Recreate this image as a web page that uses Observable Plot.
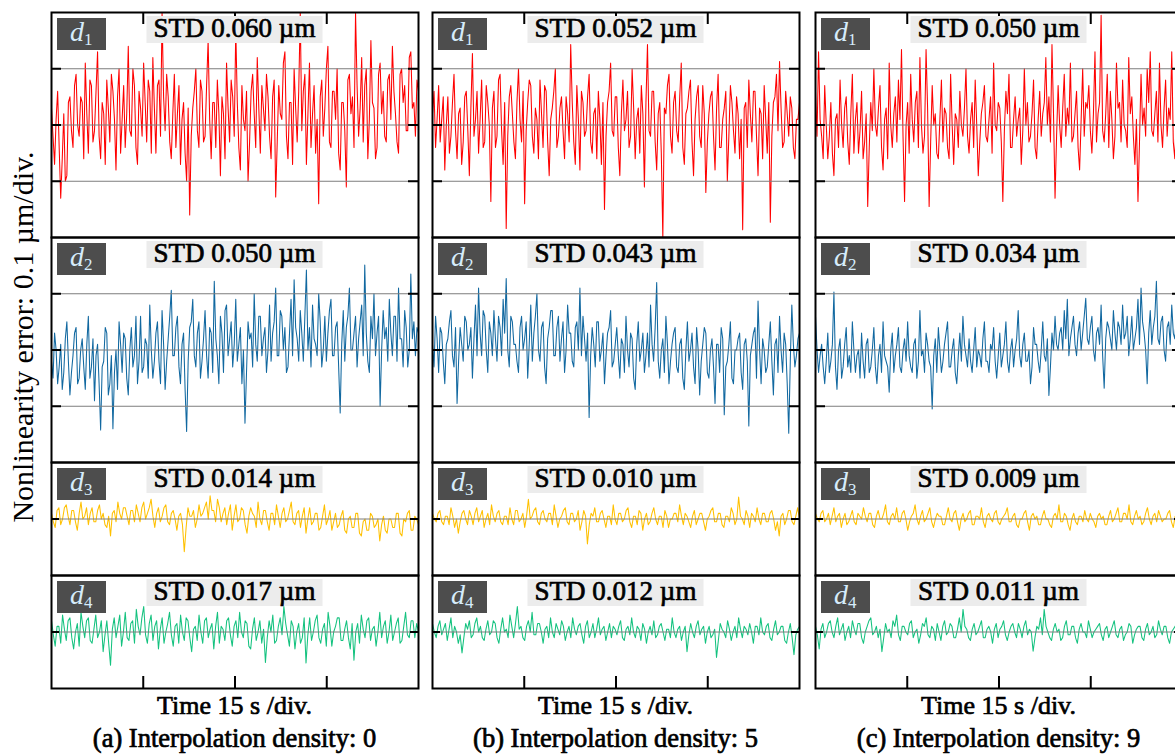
<!DOCTYPE html>
<html>
<head>
<meta charset="utf-8">
<script src="https://cdn.jsdelivr.net/npm/d3@7"></script>
<script src="https://cdn.jsdelivr.net/npm/@observablehq/plot@0.6"></script>
<style>
  html, body { margin: 0; padding: 0; background: #fff; overflow: hidden; }
  #root { position: relative; width: 1175px; height: 754px; overflow: hidden; background: #fff; }
  .cell { position: absolute; }
  .cell svg { max-width: none !important; display: block; background: transparent; }
  #overlay { position: absolute; left: 0; top: 0; pointer-events: none; }
  #overlay text { font-family: "Liberation Serif", "Times New Roman", Times, serif; }
</style>
</head>
<body>
<div id="root"></div>
<script>
// ---------------- DATA (nonlinearity error in nm; 0.1 µm = 100 nm per division) ----------------
const timeSpan = 60;                 // s (4 divisions × 15 s)
const xTicks = [15, 30, 45];         // s
const gridBig = [-100, 0, 100];      // nm
const gridSmall = [0];               // nm
const captions = ["(a) Interpolation density: 0", "(b) Interpolation density: 5", "(c) Interpolation density: 9"];
const xLabel = "Time 15 s /div.";
const yLabel = "Nonlinearity error: 0.1 µm/div.";
const channelNames = ["1", "2", "3", "4"];
const channelColors = ["#ff0000", "#1168a0", "#ffc000", "#14c27f"];
const stdA = [0.060, 0.050, 0.014, 0.017];
const stdB = [0.052, 0.043, 0.010, 0.012];
const stdC = [0.050, 0.034, 0.009, 0.011];

// (a) interpolation density 0
const d1a = [
  30,-20, -70,10, 60,-40, -130,-60, 20,-100, -90,40, 50,-10, -40,70, 90,0, -20,50,
  40,-60, 110,20, -50,80, 70,-30, -10,60, 130,-20, -60,40, 20,-70, 80,30, -30,90,
  60,10, -80,50, 100,-50, 10,70, -40,20, 140,-10, -20,100, 70,-40, -70,60, 30,-20,
  110,40, -30,80, 60,-50, 120,30, -50,70, 80,-20, 200,50, -10,90, 50,-30, -60,20,
  90,-40, 20,70, -70,10, 40,-50, -100,30, -160,-20, 30,60, 100,-10, -40,80, 60,-30,
  -20,70, 150,10, -60,40, 40,-40, 80,20, -90,50, 20,-60, 110,30, -30,80, 50,-20,
  170,40, -40,-80, 70,10, -10,60, -100,-30, 60,90, 20,-40, 120,30, -50,70, 30,-10,
  90,50, -20,-60, 50,80, -128,-30, 70,20, 10,110, 130,-20, -60,40, 40,-70, 100,30,
  -30,60, 200,-10, 60,90, -70,20, 110,-40, 20,70, -50,10, -140,50, 80,-20, 30,100,
  140,-30, -40,60, 60,10, 100,-50, -80,40, 40,-10, -110,80, 90,20, 50,-40, 200,70,
  -20,30, 120,-30, 70,100, -60,10, 150,40, 30,-60, -40,90, 110,20, 60,-20, -30,80,
  90,10, 140,60, 20,-30, -50,90, 100,40, 70,-10, -10,120, 130,30, 40,-20, 80,60
];
const d2a = [
  -20,-50, 30,0, -60,-30, 10,-70, -40,20, 50,-20, -80,-40, -10,30, 40,-60, -50,0,
  20,-30, -70,10, 60,-50, -30,20, -90,-10, 10,-60, -142,-30, -20,40, 30,-80, -60,-10,
  -140,-40, 0,-70, 50,10, -40,30, 20,-50, -80,0, 40,-30, -10,60, -60,-20, 60,-40,
  -30,20, 10,-50, 80,0, -50,-20, 30,50, -20,-60, 70,10, -70,-20, 20,60, 106,-10,
  -10,40, 60,-30, -60,10, 30,-70, -145,-20, 40,50, 90,-10, -30,30, 50,-50, -20,20,
  70,-10, -50,40, 30,-40, 122,20, -10,-60, 60,30, -40,70, 80,-10, 20,50, -30,10,
  90,-20, 10,40, -60,0, -130,-40, 50,20, 30,-30, 100,10, -20,60, 60,-10, 20,40,
  -40,0, 80,-20, 30,50, 110,-10, -10,70, 60,0, 40,-40, -30,30, 90,-10, 125,40,
  20,-20, 70,30, -20,60, 142,0, 40,-30, 80,20, 10,-10, 100,50, -30,0, 60,-20,
  30,70, 90,-10, -10,40, 50,-30, -112,10, 70,-20, 40,60, 110,0, 0,30, 60,-30,
  20,50, 80,-10, 151,30, -20,-40, 60,20, 100,-10, 30,60, -100,0, 70,20, 40,-20,
  90,30, -10,60, 60,-20, 110,20, 20,-30, 70,40, -30,0, 135,20, 50,-10, 40,30
];
const d3a = [
  10,-5, -15,15, 20,-10, 0,20, 25,5, -10,15, 15,-5, -20,10, 30,0, 5,20,
  -10,10, 20,-5, -5,15, 25,0, 10,-10, -15,5, -30,10, 15,-5, 30,10, 0,20,
  20,5, -10,15, 15,-5, 25,10, -5,20, 30,0, 10,20, 35,5, -15,10, 20,-5,
  5,20, 25,-5, -10,10, 15,0, -20,5, 10,-10, -58,-15, 20,5, 5,15, -15,0,
  25,5, 10,20, 30,0, 41,15, 15,-5, 35,20, -5,10, 20,-10, 10,25, -20,5,
  25,-5, 0,20, 15,-10, -25,5, 20,10, 5,-15, 30,0, -10,15, 15,-5, -20,10,
  10,-10, 25,5, -15,10, 20,-5, 0,15, 30,-5, -10,10, 15,-15, 5,20, -25,0,
  20,-10, -5,10, 10,-20, -15,5, 25,-10, 0,15, -20,-5, 10,-15, -10,5, 15,-20,
  -25,0, 5,-15, -15,10, 10,-25, -30,-5, 0,-20, -20,10, 5,-15, -10,0, -39,-10,
  5,-20, -25,0, 0,-15, -15,10, 10,-25, -30,0, -5,10, 15,-20, -20,5, 0,-10
];
const d4a = [
  20,-5, -25,10, 10,-20, 30,5, -15,20, 25,-10, -30,0, 15,-25, 35,10, -10,20,
  25,-15, -20,5, 30,-10, 0,20, -35,-5, 20,-20, -59,5, 25,-10, 10,30, -25,0,
  35,-10, -15,15, 20,-20, 40,10, -5,25, 45,-5, -20,15, 30,-15, 10,20, -30,5,
  25,-20, 0,15, 35,-5, -25,10, 15,-20, 30,0, -15,25, 20,-10, -35,5, 10,-15,
  30,0, -20,20, 25,-10, 5,15, -30,10, 35,-20, 10,5, -15,20, 25,-5, -25,10,
  20,-10, 35,0, -10,20, 15,-25, -30,5, 25,-15, 0,20, -20,5, -54,-10, 20,0,
  30,-20, -15,10, 25,-5, 45,15, -5,-25, 20,10, -30,0, 15,-20, -10,25, -55,-5,
  25,-15, 0,20, 30,-10, -20,5, 15,-25, 35,10, -25,0, 10,25, 25,-15, -15,5,
  20,-10, -30,15, -50,0, 15,-20, 30,5, -10,20, 25,-15, 5,10, -25,0, 35,-10,
  10,20, -20,0, 30,-15, 0,15, 25,-20, -15,10, 35,-5, -10,20, 20,-10, 15,0
];

// (b) interpolation density 5
const d1b = [
  20,60, -40,10, 70,-30, 10,50, -80,0, 50,-50, -20,40, 90,-10, -60,20, 30,-70,
  -30,50, 60,-10, -90,30, 127,-20, 10,60, -50,10, 80,-40, -30,70, 40,0, -136,30,
  60,-40, -20,80, 90,-10, -70,40, -184,-20, 50,70, 20,-30, -60,40, 100,10, -30,60,
  -140,-10, 40,80, 70,-20, -50,30, 10,-60, 80,20, -40,70, 60,-30, -90,10, 30,60,
  100,-40, -20,30, 50,-10, -60,50, 20,-30, 143,40, -30,-70, 70,10, -80,60, 40,-20,
  -10,50, 90,-30, -50,20, 30,-60, 60,10, -70,40, -150,-20, 40,60, 110,-10, -20,50,
  50,-40, -90,20, 80,-10, 10,60, -40,-20, 100,30, -60,10, 30,-50, 70,20, -110,40,
  143,-10, -20,60, 60,-30, -80,20, 40,-50, -200,30, 20,70, 90,-20, -50,40, 60,-10,
  -30,50, 110,-40, -70,20, 30,60, 80,-30, -90,10, 50,70, -20,-40, 70,20, -120,-30,
  20,50, 60,-20, -80,30, 90,-40, -40,10, 30,60, -100,-20, 70,40, -10,-50, 50,20,
  -60,10, -186,30, 40,-40, 80,20, -30,60, 60,-20, -90,30, 20,-60, 70,10, -50,40,
  -173,-20, 40,50, 90,-10, 113,30, -40,-30, 60,20, -20,50, 30,-40, -60,10, 10,40
];
const d2b = [
  10,-30, 60,20, -40,40, 30,-20, -60,10, 20,50, 70,-10, -30,40, -95,-20, 40,10,
  -20,60, 50,0, 10,40, -50,20, 80,-10, 110,30, -10,70, 60,0, -40,50, 30,-10,
  70,20, -20,60, 40,-10, 90,30, 127,0, -30,60, 50,10, 10,-20, -40,40, 60,0,
  20,50, -50,10, 80,-20, 30,60, 100,0, -20,40, 50,-30, -60,20, 40,70, 70,-10,
  -10,40, 60,-20, 20,50, -40,0, 80,30, 30,-20, -30,40, 50,0, 110,-10, 60,20,
  -20,30, -120,-10, 40,10, -30,50, 50,-20, 0,30, -60,-10, 30,40, 70,-30, -20,10,
  40,-10, -50,20, 10,-40, 60,0, -30,30, 20,-50, -70,10, 50,-20, 0,30, -40,-10,
  30,-30, 80,10, -20,40, 120,-20, -50,0, 20,-40, 60,10, -60,-20, 10,30, 40,-30,
  -40,10, 20,-50, -70,0, 50,-20, 0,30, -30,-60, 40,0, -80,-20, 10,40, 30,-40,
  -50,0, 20,-30, -95,10, 10,-40, 40,20, -115,-30, -20,10, 50,-50, -60,0, 0,20,
  30,-40, -70,10, 20,-20, -135,-10, 10,30, 40,-50, 87,0, -60,20, 0,-40, -30,10,
  50,-20, -80,10, 20,-40, 60,0, -40,30, 10,-60, -148,-20, 80,10, -30,-10, 20,30
];
const d3b = [
  10,0, -5,10, 15,-5, -10,5, 5,-10, 20,5, -15,0, -25,-5, 10,15, 0,-10,
  15,5, -10,10, 20,-5, 5,15, -15,0, 10,-10, 25,5, -5,10, 15,-5, -10,5,
  5,-10, 20,0, -10,15, 15,-5, 0,10, -15,5, 35,0, 5,15, 20,-5, -10,10,
  15,0, -5,10, 10,-10, 25,5, -15,0, 5,15, 20,-5, -10,10, 10,-5, 0,15,
  -20,-5, 15,5, -44,-10, 10,5, 20,-5, -5,10, 15,0, -15,5, 5,-10, 25,0,
  -10,10, 10,-5, 0,15, 20,-5, -15,5, 5,-10, 15,10, -20,0, 10,-10, -5,10,
  20,0, -10,5, 5,-15, 15,5, -15,0, 0,10, 10,-5, 25,5, -10,10, 5,-5,
  -15,5, 15,-10, 0,10, 10,-5, -20,0, 5,15, 20,-5, -5,10, 10,-10, -15,5,
  5,-5, 20,10, -10,0, 39,5, 0,-10, 15,5, -15,10, 5,-5, 20,0, -10,10,
  10,-5, -5,10, 15,0, -20,-5, -30,5, 10,-10, 0,15, 15,-5, -10,5, 20,0
];
const d4b = [
  15,0, -10,10, 20,-5, 5,15, -15,5, 25,-10, 10,0, -20,-5, -37,-10, 15,5,
  20,-10, -5,15, 25,0, 10,-10, -15,5, 20,-5, 0,20, 15,-10, -20,5, 25,0,
  5,-10, 30,10, -10,15, 45,5, 10,-10, -15,10, 20,0, 35,-5, -5,15, 15,0,
  -20,5, 10,-10, 25,0, -10,15, 5,-5, 20,10, -15,0, 10,-10, 25,5, -5,10,
  15,-5, -20,10, 20,-10, 0,15, -10,5, 25,-5, 5,10, -15,0, 15,-10, 10,5,
  -5,10, 20,-10, -15,5, 10,-5, 25,0, -10,10, 5,-15, 15,5, -20,0, 10,-5,
  20,-10, -5,10, 15,0, -15,5, 5,-10, 25,0, -10,5, 10,-15, 0,10, -35,-5,
  15,0, -10,10, 20,-5, 5,10, -20,0, 10,-10, -5,5, -45,-15, 15,5, 0,-10,
  20,5, -15,0, 10,-10, 25,5, -10,10, 5,-5, 15,0, -20,10, 10,-5, 25,0,
  -5,10, 15,-10, -15,5, 20,-5, 0,10, 10,-15, -20,0, 15,-10, -40,-5, 5,10
];

// (c) interpolation density 9
const d1c = [
  60,-20, 130,10, -20,-60, 70,0, -60,-20, 40,-50, -90,10, 20,-40, 80,0, -40,30,
  50,-30, -70,20, 90,-50, 10,40, -50,-10, 60,-60, -30,20, -145,-40, 40,-10, 100,0,
  -20,30, 70,-40, -80,10, 30,-60, 110,0, -40,20, 50,-30, 80,10, 134,-20, -136,0,
  40,-50, 90,10, -30,40, 60,-40, 120,0, -50,-20, 134,30, -145,-30, 70,0, 20,-50,
  -60,10, 80,-30, 30,20, -40,-60, 90,0, -70,20, 10,-40, 60,0, -20,30, 100,-20,
  -50,10, 40,-40, 80,0, -90,-30, 20,40, 70,-20, -30,10, 50,-50, 110,0, -10,40,
  30,-30, -136,-10, 60,20, 90,-40, -40,10, 50,-20, 10,30, -70,-10, 100,0, 40,-30,
  -20,20, 80,-40, -60,10, 60,-20, 20,40, 120,0, 50,-30, 143,20, -130,-20, 70,0,
  -40,30, 90,-20, 30,0, 110,-30, -20,20, 60,-40, -80,10, 100,-20, 40,30, 70,-10,
  -50,20, 130,-30, 20,40, 195,-10, -30,20, 90,-40, 60,10, -60,-20, 110,30, 40,-30,
  80,0, -10,-40, 120,20, 50,-20, -70,10, -136,-30, 90,0, 30,-20, 100,40, 130,-10,
  -20,20, 60,-30, 110,0, -40,30, 80,-20, 30,10, 130,-30, -60,20, 50,0, 20,-20
];
const d2c = [
  60,0, -40,-10, 10,-30, -60,-20, 30,-40, -20,10, 103,-30, -70,0, 20,-50, -30,10,
  40,-30, -10,-40, 50,0, -40,-10, 0,-50, 30,-20, -50,10, 20,-40, -30,0, 40,-30,
  -60,-10, 10,-40, 50,-10, -20,-30, -75,0, 30,-40, -10,10, 40,-30, -40,0, 20,-20,
  50,-10, -30,-40, 10,20, -50,-20, 70,-10, 0,-40, 30,10, -20,-30, -105,-10, 20,-40,
  40,0, -40,-20, 10,30, 50,-30, -30,0, 20,-40, -60,-10, 30,-20, 60,10, -10,-30,
  20,-20, -40,0, 40,-30, 0,-10, -30,20, 50,-20, -20,-40, 10,0, 40,-20, -50,-10,
  30,-30, -10,10, 50,-20, -40,0, 20,-30, 0,20, 70,-10, -30,10, 30,-20, -20,0,
  -60,-30, 40,10, 10,-20, -40,0, 50,-10, -20,20, -81,-30, 30,0, 60,10, 0,30,
  40,0, 70,20, 90,-10, 20,40, 60,10, -10,30, 50,0, 30,60, 92,20, 10,40,
  60,0, -20,30, 40,10, 80,-10, -68,20, 50,40, 20,0, 70,30, 0,50, 40,10,
  80,20, 30,60, -10,20, 60,0, 20,40, 90,10, 110,50, 30,0, -60,30, 70,10,
  40,60, 122,20, 10,50, 60,0, -20,40, 50,10, 80,30, 20,60, 60,0, 30,40
];
const d3c = [
  10,0, -5,10, 15,-5, 0,10, -10,5, 20,-5, 5,10, -15,0, 10,-10, -5,5,
  15,-5, -10,10, 5,0, 20,5, -5,10, 10,-10, -15,5, 15,0, 0,10, 25,-5,
  -10,5, 10,0, 20,-5, -5,10, 15,0, -20,-5, 5,10, 25,0, -10,5, 15,-5,
  0,10, 20,-5, -15,0, 10,5, 5,-10, -10,5, 20,0, -5,10, 15,-5, -20,0,
  10,-5, 0,10, 15,-10, -10,5, 5,0, 20,-5, -15,5, 10,0, -5,10, 15,-5,
  -10,0, 5,10, 20,-5, -5,5, 10,-10, -15,0, 0,10, 15,-5, -20,5, 10,0,
  5,-10, -10,5, 15,0, 0,-10, -15,5, 10,0, 25,-5, -5,10, 5,-10, -20,0,
  10,-5, -10,5, 5,-5, 15,0, -5,10, 0,-5, -15,5, 10,0, 5,-10, -10,5,
  15,-5, 0,10, 20,-5, -5,10, 10,0, 25,-5, -10,5, 15,0, 5,-10, -5,10,
  20,0, -10,5, 10,-5, 15,5, -5,0, 0,10, 15,-5, -15,5, 5,-10, 10,0
];
const d4c = [
  10,-5, -30,5, 15,-10, 0,15, 20,0, -10,10, 25,-5, 5,15, -15,0, 10,-10,
  20,5, -5,15, 15,-10, -20,0, 10,20, 25,-5, 0,10, -10,5, -35,-10, 15,0,
  5,-10, 20,10, 30,-5, -15,10, 10,0, -5,15, 20,-10, 0,5, -20,-5, 15,10,
  25,-5, -10,10, 5,-15, 15,0, -15,10, 20,-5, 0,15, 10,-10, -10,5, 25,0,
  40,10, 5,-10, -15,5, 15,-5, 0,10, 20,-10, -10,5, 10,0, -20,5, 15,-10,
  5,10, 20,-5, -15,0, 10,15, 0,-10, 15,5, -10,10, 20,-5, 5,0, -34,-10,
  10,5, 25,-5, 40,10, 0,-10, -15,5, 15,0, 5,-15, -10,10, 20,-5, -5,10,
  10,-10, -20,5, 15,0, 0,-10, 20,5, -10,0, 5,10, 15,-5, -15,5, 10,-10,
  0,10, 20,-5, -10,5, 10,-15, -5,0, 15,10, -20,-5, 5,10, 10,-10, -15,5,
  15,-5, 0,10, -10,-5, 20,5, -5,10, 10,-10, -20,0, 5,10, 15,-5, 0,5
];

// ---------------- LAYOUT ----------------
const colLeft = [51, 432, 815];
const panelW = 367;
const rowTop = [12, 237, 462, 575];
const rowH = [225, 225, 113, 113];
const yHalf = [200, 200, 100, 100];   // nm visible above/below zero in each row

const series = [[d1a, d2a, d3a, d4a], [d1b, d2b, d3b, d4b], [d1c, d2c, d3c, d4c]];
const stds = [stdA, stdB, stdC];

const root = document.getElementById("root");

for (let c = 0; c < 3; c++) {
  for (let r = 0; r < 4; r++) {
    const vals = series[c][r];
    const n = vals.length;
    const data = vals.map((v, i) => ({t: i * timeSpan / (n - 1), v}));
    const h = rowH[r];
    const grid = r < 2 ? gridBig : gridSmall;
    const tickLen = r < 2 ? 10 : 8;
    const marks = [
      Plot.line(data, {x: "t", y: "v", stroke: channelColors[r], strokeWidth: 1.05, clip: true}),
      Plot.ruleY(grid, {stroke: "#7d7d7d", strokeWidth: 1}),
      Plot.ruleY(grid, {stroke: "#000", strokeWidth: 2, insetRight: panelW - tickLen}),
      Plot.ruleY(grid, {stroke: "#000", strokeWidth: 2, insetLeft: panelW - tickLen})
    ];
    if (r === 0) marks.push(Plot.ruleX(xTicks, {stroke: "#000", strokeWidth: 2, insetBottom: h - 12}));
    if (r === 3) marks.push(Plot.ruleX(xTicks, {stroke: "#000", strokeWidth: 2, insetTop: h - 12}));
    marks.push(Plot.frame({stroke: "#000", strokeWidth: 2}));
    const plot = Plot.plot({
      width: panelW + 2,
      height: h + 2,
      margin: 1,
      style: {background: "transparent", overflow: "visible"},
      x: {domain: [0, timeSpan], axis: null},
      y: {domain: [-yHalf[r], yHalf[r]], axis: null},
      marks
    });
    const cell = document.createElement("div");
    cell.className = "cell";
    cell.style.left = (colLeft[c] - 1) + "px";
    cell.style.top = (rowTop[r] - 1) + "px";
    cell.style.width = (panelW + 2) + "px";
    cell.style.height = (h + 2) + "px";
    cell.appendChild(plot);
    root.appendChild(cell);
  }
}

// ---------------- ANNOTATIONS (real text) ----------------
const FONT = "Liberation Serif";
const svg = d3.select(root).append("svg")
  .attr("id", "overlay")
  .attr("width", 1175).attr("height", 754);

function label(x, y, size, str) {
  return svg.append("text")
    .attr("x", x).attr("y", y)
    .attr("text-anchor", "middle")
    .attr("font-family", FONT)
    .attr("font-size", size)
    .attr("fill", "#000")
    .attr("stroke", "#000").attr("stroke-width", 0.7)
    .text(str);
}

for (let c = 0; c < 3; c++) {
  const cx = colLeft[c] + panelW / 2;
  for (let r = 0; r < 4; r++) {
    const top = rowTop[r];
    svg.append("rect")
      .attr("x", cx - 88).attr("y", top + 4).attr("width", 176).attr("height", 27)
      .attr("fill", "#ececec");
    label(cx, top + 25, 27, `STD ${stds[c][r].toFixed(3)} µm`);
    const lx = colLeft[c] + 6;
    svg.append("rect")
      .attr("x", lx).attr("y", top + 6).attr("width", 49).attr("height", 32)
      .attr("fill", "#4d4d4d");
    const t = svg.append("text")
      .attr("x", lx + 13).attr("y", top + 29)
      .attr("font-family", FONT)
      .attr("fill", "#d6ecfb");
    t.append("tspan").attr("font-style", "italic").attr("font-size", 28).text("d");
    t.append("tspan").attr("font-size", 17).attr("dy", 4).text(channelNames[r]);
  }
  label(cx, 714, 26, xLabel);
  label(cx, 747, 26.5, captions[c]);
}

svg.append("text")
  .attr("transform", "translate(33,337) rotate(-90)")
  .attr("text-anchor", "middle")
  .attr("font-family", FONT)
  .attr("font-size", 30).attr("fill", "#000")
  .text(yLabel);
</script>
</body>
</html>
